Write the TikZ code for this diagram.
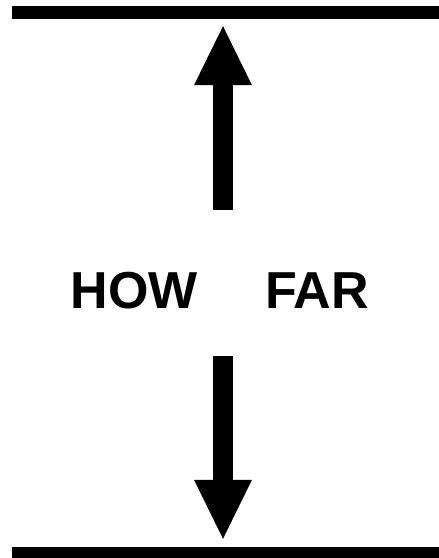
\documentclass[tikz,border=0pt]{standalone}
\usepackage{fontspec}
\setmainfont{Liberation Sans}
\usetikzlibrary{arrows.meta}
\tikzset{
  bar/.style={fill=black, inner sep=0pt, minimum width=440pt, minimum height=13pt},
  word/.style={font=\fontsize{52}{52}\selectfont\bfseries, inner sep=0pt, anchor=base},
  push/.style={line width=20pt, black, -{Triangle[length=59pt, width=58pt, line width=0pt]}},
}
\begin{document}
\begin{tikzpicture}[x=1pt, y=1pt]
  \useasboundingbox (0,0) rectangle (439,558);
  \node[bar] (top) at (232,545.5) {};
  \node[bar] (bottom) at (232,4.5) {};
  \node[word] (how) at (134,249) {HOW};
  \node[word] (far) at (317,249) {FAR};
  \coordinate (upfoot) at (223,348);
  \coordinate (downfoot) at (223,202);
  % arrows stop short of the bars
  \draw[push] (upfoot) -- ([yshift=-7pt]upfoot |- top.south);
  \draw[push] (downfoot) -- ([yshift=8pt]downfoot |- bottom.north);
\end{tikzpicture}
\end{document}
